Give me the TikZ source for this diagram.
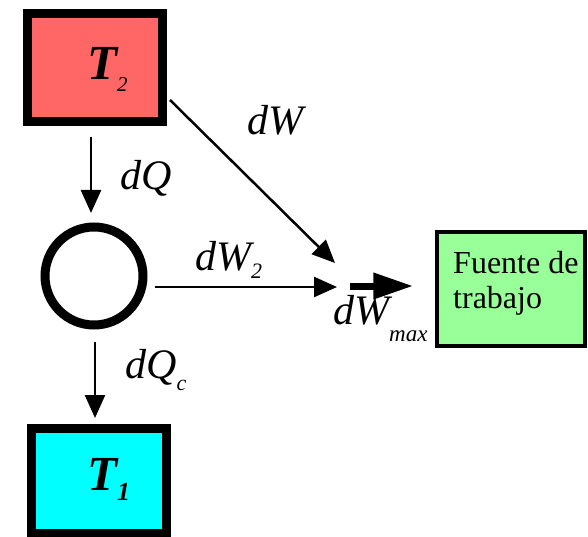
\documentclass[tikz,border=0pt]{standalone}
\usepackage{fontspec}
\setmainfont{Liberation Serif}
\usetikzlibrary{arrows.meta}
\definecolor{hotred}{RGB}{255,102,102}
\definecolor{coldcyan}{RGB}{0,255,255}
\definecolor{workgreen}{RGB}{153,255,153}
\newcommand\fs[1]{\fontsize{#1}{#1}\selectfont}
\newcommand\lowsub[3]{\raisebox{-#1pt}{\fs{#2}#3}}
\begin{document}
\begin{tikzpicture}[x=1pt,y=-1pt,
  reservoir/.style={draw=black, line width=9pt, rectangle, inner sep=0pt},
  engine/.style={draw=black, line width=9pt, circle, minimum size=98pt, inner sep=0pt},
  sink/.style={draw=black, line width=3.5pt, rectangle, minimum width=148pt, minimum height=114pt,
    fill=workgreen, inner sep=0pt},
  flow/.style={-{Triangle[length=23pt,width=20pt]}, line width=2.5pt},
  bigflow/.style={-{Triangle[length=40pt,width=25pt]}, line width=7pt},
  lbl/.style={anchor=base west, inner sep=0pt, font=\fs{42}\itshape}]
\useasboundingbox (0,0) rectangle (588,537);

% reservoirs, engine and work sink
\node[reservoir, fill=hotred, minimum width=135pt, minimum height=108pt] (T2) at (94.5,68) {};
\node[reservoir, fill=coldcyan, minimum width=134.5pt, minimum height=104.5pt] (T1) at (98.75,480.75) {};
\node[engine] (E) at (94,276) {};
\node[sink] (F) at (511,289) {};
% a multi-line node's base is the baseline of its last line
\node[anchor=base west, inner sep=0pt, align=left, font=\fs{32}] (Ft) at (453,308)
  {Fuente de\\[3pt]trabajo};

% reservoir labels
\node[anchor=base west, inner sep=0pt] (T2t) at (87,80) {\fs{49}\bfseries\itshape T\lowsub{12}{21}{\mdseries 2}};
\node[anchor=base west, inner sep=0pt] (T1t) at (87,490) {\fs{49}\bfseries\itshape T\lowsub{10}{26}{1}};

% junction points of the work flows
\coordinate (jA) at (335,263);
\coordinate (jB) at (337,287);
\coordinate (mA) at (350,286);

% heat and work flows
\draw[flow, shorten <=10.5pt, shorten >=9.5pt] ([xshift=-3.5pt]T2.south) -- ([xshift=-3pt]E.north);
\draw[flow, shorten <=12.5pt, shorten >=6pt] ([xshift=1pt]E.south) -- ([xshift=-3.75pt]T1.north);
\draw[flow] ([shift={(3.5pt,-32pt)}]T2.east) -- (jA);
\draw[flow] ([shift={(7.5pt,-11pt)}]E.east) -- (jB);
\draw[bigflow] (mA) -- ([shift={(-22pt,3pt)}]F.west);

% flow labels
\node[lbl] (lW) at (247,135) {dW};
\node[lbl] (lQ) at (120,190) {dQ};
\node[lbl] (lW2) at (195,270) {dW\lowsub{8}{22}{2}};
\node[lbl] (lQc) at (125,378) {dQ\lowsub{12}{22}{c}};
\node[lbl] (lWm) at (333,324) {dW\lowsub{17}{23}{max}};
\end{tikzpicture}
\end{document}
